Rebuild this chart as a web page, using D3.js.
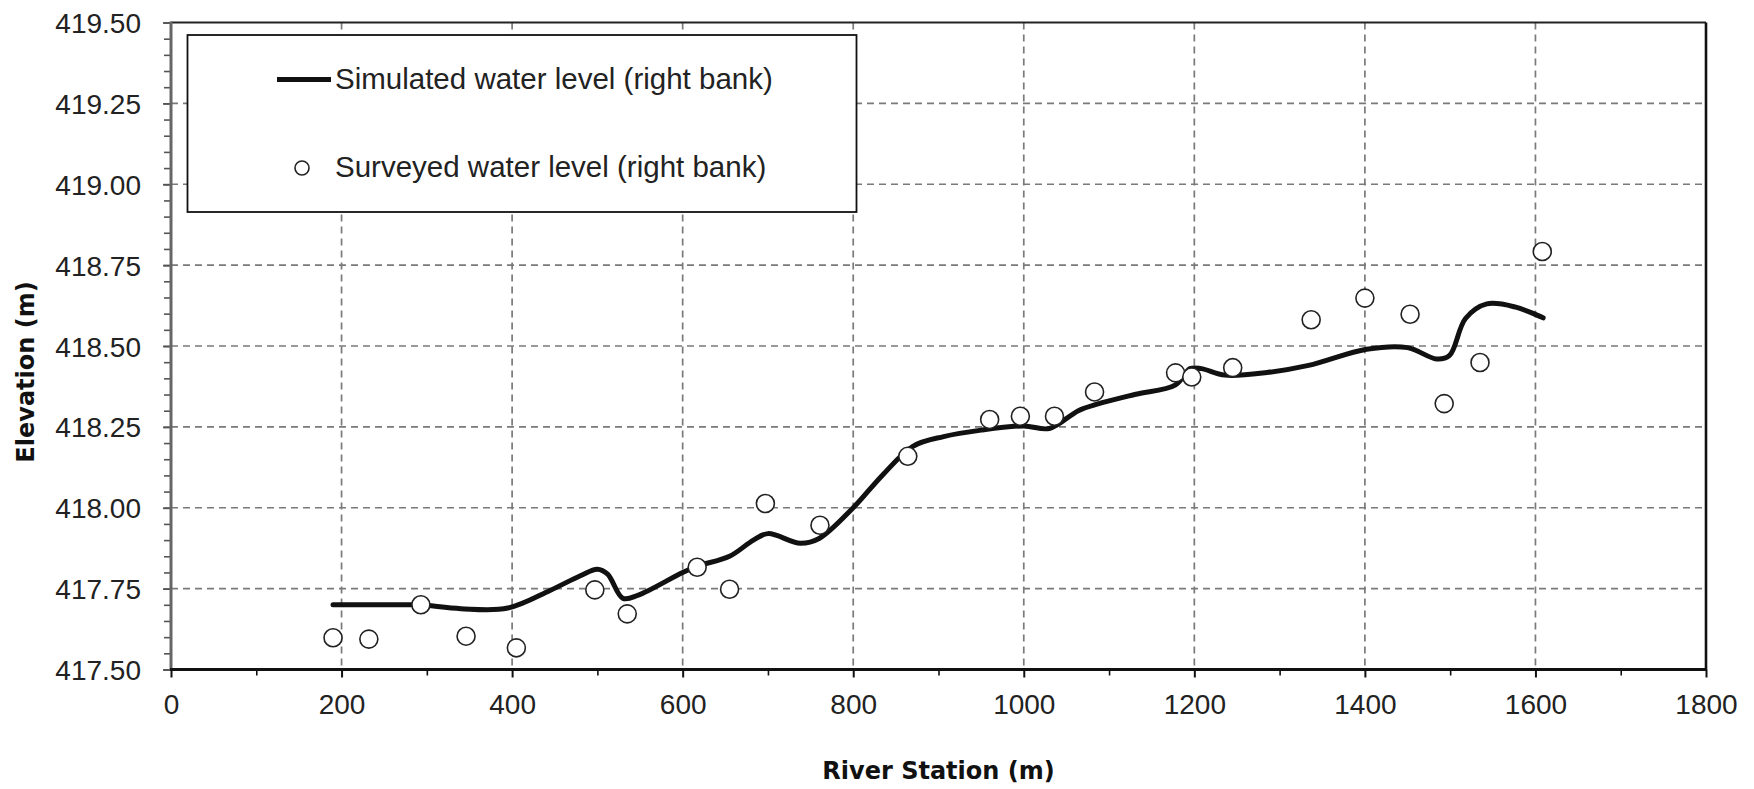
<!DOCTYPE html>
<html>
<head>
<meta charset="utf-8">
<script src="https://cdn.jsdelivr.net/npm/d3@7"></script>
<style>
  html, body { margin: 0; padding: 0; background: #fff; }
  svg { display: block; }
</style>
</head>
<body>
<svg id="chart" width="1754" height="789"></svg>
<script>
// Simulated water level along the right bank: river station (m)
const simStation = [190, 260, 290, 340, 395, 445, 480, 500, 512, 530, 548, 600, 618, 655, 683, 700, 738, 760,
  800, 834, 870, 906, 950, 1000, 1030, 1064, 1086, 1130, 1178, 1195, 1208, 1236, 1285, 1334, 1402, 1450,
  1484, 1499, 1518, 1543, 1577, 1609];
// Simulated water level elevation (m)
const simElevation = [417.70, 417.70, 417.70, 417.688, 417.69, 417.745, 417.79, 417.81, 417.795, 417.72, 417.73,
  417.80, 417.82, 417.85, 417.90, 417.92, 417.89, 417.905, 418.00, 418.10, 418.19, 418.22, 418.24, 418.253,
  418.245, 418.30, 418.32, 418.35, 418.38, 418.43, 418.43, 418.41, 418.418, 418.44, 418.49, 418.495,
  418.46, 418.47, 418.585, 418.63, 418.62, 418.587];

// Surveyed water level along the right bank
const obsStation = [190, 232, 293, 346, 405, 497, 535, 617, 655, 697, 761, 864, 960, 996, 1036, 1083,
  1178, 1197, 1245, 1337, 1400, 1453, 1493, 1535, 1608];
const obsElevation = [417.598, 417.594, 417.70, 417.603, 417.567, 417.746, 417.672, 417.816, 417.748, 418.013,
  417.946, 418.159, 418.273, 418.283, 418.283, 418.358, 418.417, 418.404, 418.433, 418.581, 418.648,
  418.598, 418.322, 418.449, 418.792];

// Axis ticks
const xMajorTicks = [0, 200, 400, 600, 800, 1000, 1200, 1400, 1600, 1800];
const xMinorTicks = [100, 300, 500, 700, 900, 1100, 1300, 1500, 1700];
const yMajorTicks = [417.50, 417.75, 418.00, 418.25, 418.50, 418.75, 419.00, 419.25, 419.50];
const yMinorTicks = d3.range(0, 41).map(i => +(417.5 + i * 0.05).toFixed(2));

const legendLabels = ["Simulated water level (right bank)", "Surveyed water level (right bank)"];
const xTitle = "River Station (m)";
const yTitle = "Elevation (m)";

const plotLeft = 171, plotRight = 1706, plotTop = 22.5, plotBottom = 669.5;
const tickFont = "'Liberation Sans', Arial, sans-serif";
const titleFont = "'DejaVu Sans', Verdana, sans-serif";

const svg = d3.select("#chart");
const x = d3.scaleLinear().domain([0, 1800]).range([plotLeft, plotRight]);
const y = d3.scaleLinear().domain([417.5, 419.5]).range([plotBottom, plotTop]);

// Dashed grid
const grid = svg.append("g").attr("stroke", "#7a7a7a").attr("stroke-width", 1.7)
  .attr("stroke-dasharray", "7,5").attr("fill", "none");
grid.selectAll("line.h").data(yMajorTicks.slice(1, -1)).join("line").attr("class", "h")
  .attr("x1", plotLeft).attr("x2", plotRight).attr("y1", d => y(d)).attr("y2", d => y(d));
grid.selectAll("line.v").data(xMajorTicks.slice(1, -1)).join("line").attr("class", "v")
  .attr("y1", plotTop).attr("y2", plotBottom).attr("x1", d => x(d)).attr("x2", d => x(d));

// Axes with major and minor ticks
const yMinorAxis = d3.axisLeft(y).tickValues(yMinorTicks).tickSize(7).tickFormat("");
svg.append("g").attr("transform", `translate(${plotLeft},0)`).call(yMinorAxis)
  .call(g => g.select(".domain").remove())
  .call(g => g.selectAll(".tick line").attr("stroke", "#555").attr("stroke-width", 1.6));
const yAxis = d3.axisLeft(y).tickValues(yMajorTicks).tickSize(8).tickPadding(22).tickFormat(d3.format(".2f"));
svg.append("g").attr("transform", `translate(${plotLeft},0)`).call(yAxis)
  .call(g => g.select(".domain").remove())
  .call(g => g.selectAll(".tick line").attr("stroke", "#555").attr("stroke-width", 1.8))
  .call(g => g.selectAll(".tick text").attr("font-family", tickFont).attr("font-size", 28)
    .attr("fill", "#222").attr("dy", "0.36em"));

const xMinorAxis = d3.axisBottom(x).tickValues(xMinorTicks).tickSize(6).tickFormat("");
svg.append("g").attr("transform", `translate(0,${plotBottom})`).call(xMinorAxis)
  .call(g => g.select(".domain").remove())
  .call(g => g.selectAll(".tick line").attr("stroke", "#111").attr("stroke-width", 1.6));
const xAxis = d3.axisBottom(x).tickValues(xMajorTicks).tickSize(8).tickPadding(17).tickFormat(d3.format("d"));
svg.append("g").attr("transform", `translate(0,${plotBottom})`).call(xAxis)
  .call(g => g.select(".domain").remove())
  .call(g => g.selectAll(".tick line").attr("stroke", "#111").attr("stroke-width", 2))
  .call(g => g.selectAll(".tick text").attr("font-family", tickFont).attr("font-size", 28)
    .attr("fill", "#222"));

// Plot frame
svg.append("line").attr("x1", plotLeft).attr("x2", plotRight).attr("y1", plotTop).attr("y2", plotTop)
  .attr("stroke", "#222").attr("stroke-width", 2.2);
svg.append("line").attr("x1", plotRight).attr("x2", plotRight).attr("y1", plotTop).attr("y2", plotBottom)
  .attr("stroke", "#111").attr("stroke-width", 2.6);
svg.append("line").attr("x1", plotLeft).attr("x2", plotLeft).attr("y1", plotTop - 1).attr("y2", plotBottom)
  .attr("stroke", "#666").attr("stroke-width", 3);
svg.append("line").attr("x1", plotLeft - 1).attr("x2", plotRight + 1).attr("y1", plotBottom).attr("y2", plotBottom)
  .attr("stroke", "#111").attr("stroke-width", 3);

// Simulated profile
const simData = simStation.map((s, i) => ({ s, e: simElevation[i] }));
const line = d3.line().x(d => x(d.s)).y(d => y(d.e)).curve(d3.curveCatmullRom.alpha(0.5));
svg.append("path").datum(simData).attr("d", line)
  .attr("fill", "none").attr("stroke", "#111").attr("stroke-width", 5)
  .attr("stroke-linejoin", "round").attr("stroke-linecap", "round");

// Surveyed points
const obsData = obsStation.map((s, i) => ({ s, e: obsElevation[i] }));
svg.append("g").selectAll("circle").data(obsData).join("circle")
  .attr("cx", d => x(d.s)).attr("cy", d => y(d.e)).attr("r", 9)
  .attr("fill", "#fff").attr("stroke", "#222").attr("stroke-width", 1.6);

// Legend
const lg = svg.append("g");
lg.append("rect").attr("x", 187.5).attr("y", 35).attr("width", 669).attr("height", 177)
  .attr("fill", "#fff").attr("stroke", "#111").attr("stroke-width", 1.8);
lg.append("line").attr("x1", 277).attr("x2", 331).attr("y1", 79.5).attr("y2", 79.5)
  .attr("stroke", "#111").attr("stroke-width", 5);
lg.append("circle").attr("cx", 302).attr("cy", 168).attr("r", 7)
  .attr("fill", "#fff").attr("stroke", "#222").attr("stroke-width", 1.6);
lg.selectAll("text").data(legendLabels).join("text")
  .attr("x", 335).attr("y", (d, i) => i === 0 ? 89 : 177)
  .attr("font-family", tickFont).attr("font-size", 29.5).attr("fill", "#222")
  .text(d => d);

// Axis titles
svg.append("text").attr("x", (plotLeft + plotRight) / 2).attr("y", 779)
  .attr("text-anchor", "middle").attr("font-family", titleFont).attr("font-weight", "bold")
  .attr("font-size", 24).attr("fill", "#111").text(xTitle);
svg.append("text").attr("transform", "translate(34,372) rotate(-90)")
  .attr("text-anchor", "middle").attr("font-family", titleFont).attr("font-weight", "bold")
  .attr("font-size", 24).attr("fill", "#111").text(yTitle);
</script>
</body>
</html>
